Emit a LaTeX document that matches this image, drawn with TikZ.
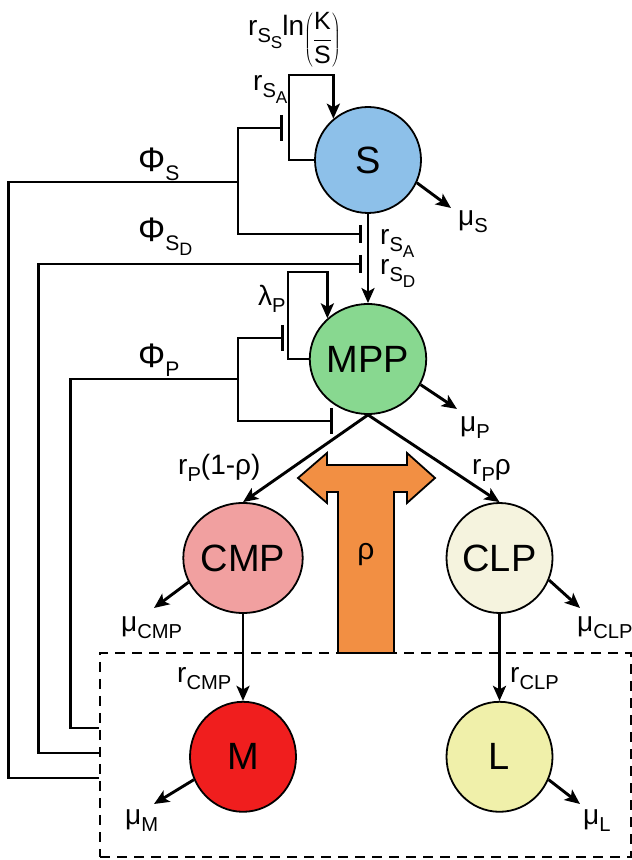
\RequirePackage{fix-cm}
\documentclass[tikz,border=0pt]{standalone}
\usepackage{fontspec}
\setmainfont{Liberation Sans}
\usepackage{xcolor}
\usepackage{tikz}
\usetikzlibrary{positioning, arrows.meta, shapes.geometric}

\definecolor{stemblue}{HTML}{8DC0E9}
\definecolor{mppgreen}{HTML}{88D890}
\definecolor{cmppink}{HTML}{F1A0A0}
\definecolor{clpcream}{HTML}{F5F3DE}
\definecolor{mred}{HTML}{F01E1E}
\definecolor{lyellow}{HTML}{F0F0AA}
\definecolor{rhoorange}{HTML}{F28F43}

\makeatletter
\newcommand{\subtxt}[2][0.72]{\raisebox{-0.25em}{\fontsize{\fpeval{#1*\f@size}}{\fpeval{#1*\f@size}}\selectfont #2}}
\makeatother

\begin{document}
\begin{tikzpicture}[
    x=1pt, y=1pt,
    >=Stealth,
    cell/.style={
        ellipse, draw=black, line width=1.8pt,
        minimum width=106pt, minimum height=110pt,
        inner sep=0pt, font=\fontsize{38}{40}\selectfont
    },
    lbl/.style={inner sep=1pt, anchor=base west, font=\fontsize{28}{30}\selectfont},
    phi/.style={lbl, font=\fontsize{34}{36}\selectfont},
    arrow/.style={-{Stealth[length=15pt, width=13pt, inset=3.5pt]}, line width=2.9pt},
    inhib/.style={-{Bar[width=26pt]}, line width=2.9pt},
    inhibs/.style={-{Bar[width=18pt]}, line width=2.9pt},
    wire/.style={line width=2.9pt},
    nichebox/.style={
        draw, dash pattern=on 10pt off 7pt, line width=2.9pt,
        minimum width=531pt, minimum height=204pt, inner sep=0pt
    },
    tshape/.style={draw=black, line width=1.8pt, fill=rhoorange, line join=miter},
]

\useasboundingbox (0,0) rectangle (632,860);

% ---------- Cells ----------
\node[cell, circle, minimum size=106pt, fill=stemblue] (S) at (368,700) {S};
\node[cell, fill=mppgreen] (MPP) at (368,501) {MPP};
\node[cell, fill=cmppink] (CMP) at (243,302) {CMP};
\node[cell, fill=clpcream, right=142pt of CMP] (CLP) {CLP};
\node[cell, fill=mred, below=87pt of CMP] (M) {M};
\node[cell, fill=lyellow, below=87pt of CLP] (L) {L};

% ---------- Switch rho ----------
\draw[tshape] (338,207) -- (338,368) -- (327,368) -- (327,357) -- (298,382)
    -- (327,407) -- (327,395) -- (407,395) -- (407,407) -- (435,382)
    -- (407,357) -- (407,368) -- (394,368) -- (394,207) -- cycle;
\node[font=\fontsize{30}{32}\selectfont] (rho) at (366,305) {ρ};

% ---------- Niche (dashed) ----------
\node[nichebox] (niche) at (365.5,105) {};

% ---------- Self-renewal ----------
\coordinate (Sloop) at (289,785);
\coordinate (Ploop) at (288,588);
\draw[arrow] (S.west) -| (Sloop) -| (S.130);
\draw[arrow] (MPP.west) -| (Ploop) -| (MPP.135);
\draw[arrow] (S) -- (MPP);

% ---------- Feedback ----------
\coordinate (jS) at (238,678);
\coordinate (jP) at (238,481);
\coordinate (barS1) at (283,732);
\coordinate (barS2) at (362,626);
\coordinate (barSD) at (362,596);
\coordinate (barP1) at (284,522);
\coordinate (barP2) at (333,439);

\draw[wire] ([yshift=-23pt]niche.west) -- ++(-90,0) |- (jS);
\draw[inhib] (jS) |- (barS1);
\draw[inhibs] (jS) |- (barS2);
\draw[inhibs] ([yshift=2pt]niche.west) -- ++(-60,0) |- (barSD);
\draw[wire] ([yshift=27pt]niche.west) -- ++(-28,0) |- (jP);
\draw[inhib] (jP) |- (barP1);
\draw[inhib] (jP) |- (barP2);

% ---------- Differentiation ----------
\draw[arrow] (MPP.south) -- (CMP.north);
\draw[arrow] (MPP.south) -- (CLP.north);
\draw[arrow] (CMP) -- (M);
\draw[arrow] (CLP) -- (L);

% ---------- Death ----------
\coordinate (tipS) at (451,652);
\coordinate (tipP) at (457,451);
\coordinate (tipCMP) at (154,252);
\coordinate (tipCLP) at (580,252);
\coordinate (tipM) at (154,56);
\coordinate (tipL) at (580,56);
\draw[arrow] (S.-25) -- (tipS);
\draw[arrow] (MPP.-26) -- (tipP);
\draw[arrow] (CMP.204) -- (tipCMP);
\draw[arrow] (CLP.-24) -- (tipCLP);
\draw[arrow] (M.205) -- (tipM);
\draw[arrow] (L.-25) -- (tipL);

% ---------- Labels ----------
\node[lbl] (rSS) at (247,824) {r\subtxt{S\subtxt[0.85]{S}}ln{\fontsize{25}{27}\selectfont\raisebox{-10pt}{$\left(\displaystyle\frac{\mbox{K}}{\mbox{S}}\right)$}}};
\node[lbl] (rSAloop) at (252,769) {r\subtxt{S\subtxt[0.85]{A}}};
\node[phi] (phiS) at (137,688) {Φ\subtxt[0.62]{S}};
\node[phi] (phiSD) at (137,618) {Φ\subtxt[0.62]{S\subtxt[0.85]{D}}};
\node[lbl] (rSA) at (379,615) {r\subtxt{S\subtxt[0.85]{A}}};
\node[lbl] (rSD) at (379,585) {r\subtxt{S\subtxt[0.85]{D}}};
\node[lbl] (lamP) at (257,554) {λ\subtxt{P}};
\node[phi] (phiP) at (137,492) {Φ\subtxt[0.62]{P}};
\node[lbl] (muS) at (457,634) {μ\subtxt{S}};
\node[lbl] (muP) at (459,428) {μ\subtxt{P}};
\node[lbl] (rPa) at (177,385) {r\subtxt{P}(1-ρ)};
\node[lbl] (rPb) at (471,385) {r\subtxt{P}ρ};
\node[lbl] (muCMP) at (120,228) {μ\subtxt{CMP}};
\node[lbl] (muCLP) at (576,228) {μ\subtxt{CLP}};
\node[lbl] (rCMP) at (176,177) {r\subtxt{CMP}};
\node[lbl] (rCLP) at (509,177) {r\subtxt{CLP}};
\node[lbl] (muM) at (124,35) {μ\subtxt{M}};
\node[lbl] (muL) at (582,35) {μ\subtxt{L}};

\end{tikzpicture}
\end{document}
